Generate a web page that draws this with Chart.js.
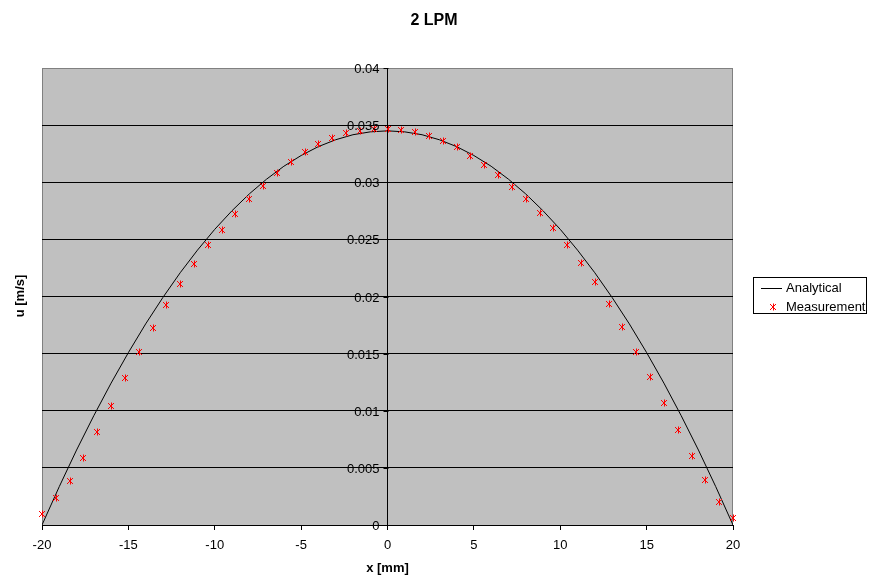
<!DOCTYPE html>
<html>
<head>
<meta charset="utf-8">
<script src="https://cdn.jsdelivr.net/npm/chart.js@4/dist/chart.umd.min.js"></script>
<style>
html,body{margin:0;padding:0;background:#fff;}
canvas{display:block;}
</style>
</head>
<body>
<canvas id="c" width="875" height="588"></canvas>
<script>
const chartTitle = '2 LPM';
const xTitle = 'x [mm]';
const yTitle = 'u [m/s]';

const analyticalX = [-20,-19,-18,-17,-16,-15,-14,-13,-12,-11,-10,-9,-8,-7,-6,-5,-4,-3,-2,-1,0,1,2,3,4,5,6,7,8,9,10,11,12,13,14,15,16,17,18,19,20];
const analyticalU = [0,0.00336,0.00656,0.00957,0.01242,0.01509,0.01760,0.01992,0.02208,0.02406,0.02588,0.02751,0.02898,0.03027,0.03140,0.03234,0.03312,0.03372,0.03416,0.03441,0.03450,0.03441,0.03416,0.03372,0.03312,0.03234,0.03140,0.03027,0.02898,0.02751,0.02588,0.02406,0.02208,0.01992,0.01760,0.01509,0.01242,0.00957,0.00656,0.00336,0];

const measX = [-20,-19.2,-18.4,-17.6,-16.8,-16,-15.2,-14.4,-13.6,-12.8,-12,-11.2,-10.4,-9.6,-8.8,-8,-7.2,-6.4,-5.6,-4.8,-4,-3.2,-2.4,-1.6,-0.8,0,0.8,1.6,2.4,3.2,4,4.8,5.6,6.4,7.2,8,8.8,9.6,10.4,11.2,12,12.8,13.6,14.4,15.2,16,16.8,17.6,18.4,19.2,20];
const measU = [0.00096,0.00234,0.00382,0.00584,0.00811,0.01044,0.01284,0.01511,0.01721,0.01926,0.02107,0.02284,0.02448,0.02585,0.02725,0.02851,0.02964,0.03078,0.03174,0.03262,0.03338,0.03390,0.03428,0.03449,0.03466,0.03466,0.03457,0.03437,0.03402,0.03361,0.03306,0.03227,0.03148,0.03061,0.02956,0.02851,0.02728,0.02597,0.02448,0.02291,0.02127,0.01932,0.01730,0.01514,0.01293,0.01065,0.00832,0.00604,0.00391,0.00201,0.00058];

const xTicksMin = -20, xTicksMax = 20, xStep = 5;
const yTicksMin = 0, yTicksMax = 0.04, yStep = 0.005;

const FONT = 'Arial, "Liberation Sans", sans-serif';
const MARK = '#FF0000';

function drawStar(ctx, cx, cy){
  const x = Math.round(cx), y = Math.round(cy);
  ctx.save();
  ctx.strokeStyle = MARK; ctx.lineWidth = 1;
  ctx.beginPath();
  ctx.moveTo(x-3, y-3); ctx.lineTo(x+3, y+3);
  ctx.moveTo(x+3, y-3); ctx.lineTo(x-3, y+3);
  ctx.moveTo(x+0.5, y-3.5); ctx.lineTo(x+0.5, y+3.5);
  ctx.stroke();
  ctx.restore();
}

const decor = {
  id: 'decor',
  beforeDraw(chart){
    const {ctx, chartArea:a} = chart;
    ctx.save();
    ctx.fillStyle = '#C0C0C0';
    ctx.fillRect(a.left, a.top, a.right-a.left, a.bottom-a.top);
    ctx.strokeStyle = '#808080';
    ctx.lineWidth = 1;
    ctx.strokeRect(a.left+0.5, a.top+0.5, a.right-a.left-1, a.bottom-a.top);
    ctx.restore();
  },
  afterDatasetsDraw(chart){
    const ctx = chart.ctx;
    const meta = chart.getDatasetMeta(1);
    meta.data.forEach(p => drawStar(ctx, p.x, p.y));
  },
  afterDraw(chart){
    const {ctx, chartArea:a} = chart;
    const xs = chart.scales.x, ys = chart.scales.y;
    // y axis labels and ticks at x = 0
    ctx.save();
    const ax = Math.round(xs.getPixelForValue(0)) + 0.5;
    ctx.strokeStyle = '#000'; ctx.lineWidth = 1;
    ctx.font = '13px ' + FONT;
    ctx.fillStyle = '#000';
    ctx.textAlign = 'right';
    ctx.textBaseline = 'middle';
    ys.ticks.forEach(t => {
      const py = Math.round(ys.getPixelForValue(t.value)) + 0.5;
      ctx.beginPath(); ctx.moveTo(ax-5, py); ctx.lineTo(ax, py); ctx.stroke();
      ctx.fillText(String(+(+t.value).toFixed(3)), ax - 9, py + 1);
    });
    ctx.restore();

    ctx.save();
    ctx.fillStyle = '#000';
    ctx.textAlign = 'center';
    ctx.textBaseline = 'middle';
    ctx.font = 'bold 16px ' + FONT;
    ctx.fillText(chartTitle, 434, 21);
    ctx.font = 'bold 13px ' + FONT;
    ctx.translate(20, 296);
    ctx.rotate(-Math.PI/2);
    ctx.fillText(yTitle, 0, 0);
    ctx.restore();

    // legend
    ctx.save();
    const lx = 753, ly = 277, lw = 113, lh = 36;
    ctx.fillStyle = '#fff';
    ctx.fillRect(lx, ly, lw, lh);
    ctx.strokeStyle = '#000';
    ctx.lineWidth = 1;
    ctx.strokeRect(lx+0.5, ly+0.5, lw, lh);
    const ds = chart.data.datasets;
    ctx.beginPath();
    ctx.moveTo(761, 288.5); ctx.lineTo(782, 288.5);
    ctx.stroke();
    drawStar(ctx, 773, 307);
    ctx.fillStyle = '#000';
    ctx.font = '13px ' + FONT;
    ctx.textAlign = 'left';
    ctx.textBaseline = 'middle';
    ctx.fillText(ds[0].label, 786, 288);
    ctx.fillText(ds[1].label, 786, 307);
    ctx.restore();
  }
};

new Chart(document.getElementById('c'), {
  type: 'scatter',
  data: {
    datasets: [
      {
        label: 'Analytical',
        data: analyticalX.map((x,i)=>({x, y: analyticalU[i]})),
        showLine: true,
        borderColor: '#000',
        borderWidth: 1,
        pointRadius: 0,
        tension: 0,
        order: 2
      },
      {
        label: 'Measurement',
        data: measX.map((x,i)=>({x, y: measU[i]})),
        showLine: false,
        pointRadius: 0,
        borderColor: MARK,
        backgroundColor: MARK,
        order: 1
      }
    ]
  },
  options: {
    responsive: false,
    devicePixelRatio: 1,
    animation: false,
    layout: { padding: { left: 42, top: 68, right: 142, bottom: 0 } },
    plugins: { legend: { display: false }, title: { display: false }, tooltip: { enabled: false } },
    scales: {
      x: {
        type: 'linear',
        min: xTicksMin, max: xTicksMax,
        ticks: { stepSize: xStep, color: '#000', font: { family: FONT, size: 13 }, padding: 8, maxRotation: 0 },
        grid: { drawOnChartArea: false, drawTicks: true, tickLength: 5, color: '#000' },
        border: { color: '#000' },
        title: { display: true, text: xTitle, color: '#000', font: { family: FONT, size: 13, weight: 'bold' }, padding: { top: 4, bottom: 12 } },
        afterFit(scale){ scale.height = 63; }
      },
      y: {
        type: 'linear',
        position: { x: 0 },
        min: yTicksMin, max: yTicksMax,
        ticks: { stepSize: yStep, display: false },
        grid: { drawTicks: false,
          color: c => (c.tick && Math.abs(c.tick.value - yTicksMax) < 1e-9) ? '#808080' : '#000' },
        border: { display: true, color: '#000' }
      }
    }
  },
  plugins: [decor]
});
</script>
</body>
</html>
